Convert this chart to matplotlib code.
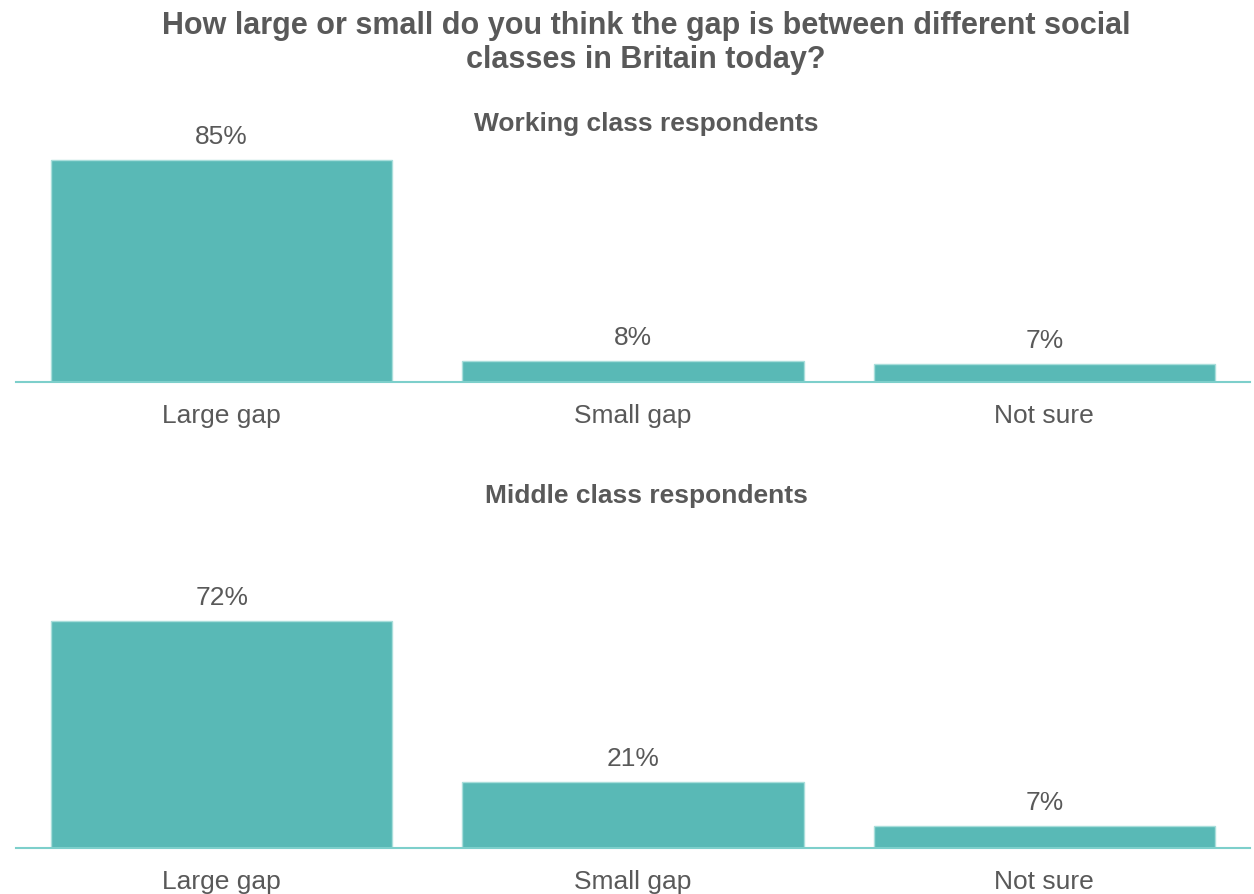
import matplotlib.pyplot as plt

plt.rcParams['font.family'] = ['Liberation Sans', 'DejaVu Sans']

categories = ['Large gap', 'Small gap', 'Not sure']
working = [85, 8, 7]
middle = [72, 21, 7]

bar_col = '#59b9b6'
txt_col = '#595959'
line_col = '#7dcfcb'

W, H = 1254, 894
fig = plt.figure(figsize=(W / 100, H / 100), dpi=100)

# panel positions in pixels: (baseline y, top y)
panels = [(working, 382, 121, 'Working class respondents', 124),
          (middle, 848, 533, 'Middle class respondents', 496)]

for vals, base, top, sub, suby in panels:
    ax = fig.add_axes([16 / W, 1 - base / H, (1250 - 16) / W, (base - top) / H])
    x = range(len(categories))
    bars = ax.bar(x, vals, width=0.83, color=bar_col, edgecolor='#a9dedb', linewidth=1)
    ax.set_xlim(-0.5, 2.5)
    ax.set_ylim(0, 100)
    for b, v in zip(bars, vals):
        ax.annotate(f'{v}%', (b.get_x() + b.get_width() / 2, v), xytext=(0, 8),
                    textcoords='offset points', ha='center', va='bottom',
                    fontsize=19, color=txt_col)
    ax.set_xticks(list(x))
    ax.set_xticklabels(categories, fontsize=19, color=txt_col)
    ax.tick_params(axis='x', length=0, pad=16)
    ax.set_yticks([])
    for s in ['top', 'right', 'left']:
        ax.spines[s].set_visible(False)
    ax.spines['bottom'].set_color(line_col)
    ax.spines['bottom'].set_linewidth(1.5)
    fig.text(646 / W, 1 - suby / H, sub, ha='center', va='center',
             fontsize=19, fontweight='bold', color=txt_col)

fig.text(646 / W, 1 - 43 / H,
         'How large or small do you think the gap is between different social\nclasses in Britain today?',
         ha='center', va='center', fontsize=22, fontweight='bold', color=txt_col,
         linespacing=1.2)

fig.savefig('out.png', dpi=100)
